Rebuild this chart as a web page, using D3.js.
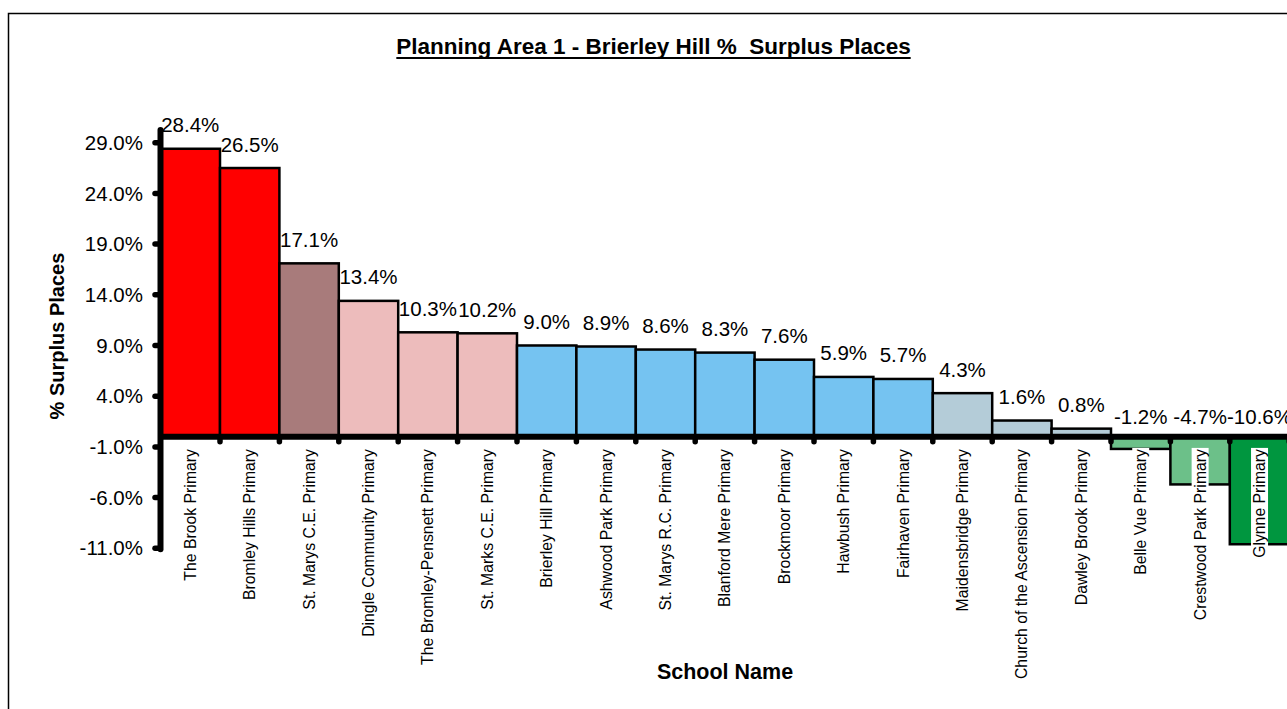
<!DOCTYPE html>
<html>
<head>
<meta charset="utf-8">
<script src="https://cdn.jsdelivr.net/npm/d3@7"></script>
<style>
  html, body { margin: 0; padding: 0; background: #fff; overflow: hidden; }
  svg { display: block; font-family: "Liberation Sans", Arial, sans-serif; }
</style>
</head>
<body>
<svg id="chart" width="1287" height="709"></svg>
<script>
const schools = [
  "The Brook Primary", "Bromley Hills Primary", "St. Marys C.E. Primary",
  "Dingle Community Primary", "The Bromley-Pensnett Primary", "St. Marks C.E. Primary",
  "Brierley Hill Primary", "Ashwood Park Primary", "St. Marys R.C. Primary",
  "Blanford Mere Primary", "Brockmoor Primary", "Hawbush Primary",
  "Fairhaven Primary", "Maidensbridge Primary", "Church of the Ascension Primary",
  "Dawley Brook Primary", "Belle Vue Primary", "Crestwood Park Primary", "Glynne Primary"
];
const surplus = [28.4, 26.5, 17.1, 13.4, 10.3, 10.2, 9.0, 8.9, 8.6, 8.3, 7.6, 5.9, 5.7, 4.3, 1.6, 0.8, -1.2, -4.7, -10.6];
const barColors = [
  "#FF0000", "#FF0000", "#A87B7B", "#EDBCBC", "#EDBCBC", "#EDBCBC",
  "#75C3F1", "#75C3F1", "#75C3F1", "#75C3F1", "#75C3F1", "#75C3F1", "#75C3F1",
  "#B4CCD8", "#B4CCD8", "#B4CCD8", "#6CC089", "#6CC089", "#00963F"
];
const yTicks = [-11, -6, -1, 4, 9, 14, 19, 24, 29];
const title = "Planning Area 1 - Brierley Hill %  Surplus Places";
const yTitle = "% Surplus Places";
const xTitle = "School Name";

const svg = d3.select("#chart");
const locale = d3.formatLocale({ decimal: ".", thousands: ",", grouping: [3], currency: ["", ""], minus: "-" });
const fmt = v => locale.format(".1f")(v) + "%";

// outer frame
svg.append("rect").attr("x", 8.5).attr("y", 13.5).attr("width", 1400).attr("height", 800)
  .attr("fill", "none").attr("stroke", "#000").attr("stroke-width", 1.5);

const x = d3.scaleBand().domain(schools).range([160.6, 1289.2]).padding(0);
const y = d3.scaleLinear().domain([-11, 30.25]).range([548.3, 130]);

// bars
svg.append("g").selectAll("rect").data(schools).join("rect")
  .attr("x", d => x(d))
  .attr("width", x.bandwidth())
  .attr("y", (d, i) => y(Math.max(0, surplus[i])))
  .attr("height", (d, i) => Math.abs(y(surplus[i]) - y(0)))
  .attr("fill", (d, i) => barColors[i])
  .attr("stroke", "#000").attr("stroke-width", 2.5);

// category labels with white backgrounds
const catG = svg.append("g");
schools.forEach((s, i) => {
  const g = catG.append("g")
    .attr("transform", `translate(${x(s) + x.bandwidth() / 2},449) rotate(-90)`);
  const t = g.append("text").attr("text-anchor", "end").attr("dy", "0.35em")
    .attr("font-size", 15.8).attr("fill", "#000").text(s);
  const bb = t.node().getBBox();
  g.insert("rect", "text").attr("x", bb.x - 1).attr("y", bb.y).attr("width", bb.width + 2)
    .attr("height", bb.height).attr("fill", "#fff");
});

// x axis line
svg.append("line").attr("x1", 158).attr("x2", 1300).attr("y1", y(0)).attr("y2", y(0))
  .attr("stroke", "#000").attr("stroke-width", 6);
// x ticks (category boundaries)
const bounds = schools.map(s => x(s)).slice(1).concat([x(schools[schools.length - 1]) + x.bandwidth()]);
svg.append("g").selectAll("line").data(bounds).join("line")
  .attr("x1", d => d).attr("x2", d => d)
  .attr("y1", y(0)).attr("y2", y(0) + 5)
  .attr("stroke", "#000").attr("stroke-width", 5.5).attr("stroke-linecap", "round");

// y axis
svg.append("line").attr("x1", 160.5).attr("x2", 160.5).attr("y1", y.range()[1]).attr("y2", y.range()[0] + 1)
  .attr("stroke", "#000").attr("stroke-width", 6).attr("stroke-linecap", "round");
const yg = svg.append("g");
yg.selectAll("line").data(yTicks).join("line")
  .attr("x1", 155).attr("x2", 160).attr("y1", d => y(d)).attr("y2", d => y(d))
  .attr("stroke", "#000").attr("stroke-width", 5.5).attr("stroke-linecap", "round");
yg.selectAll("text").data(yTicks).join("text")
  .attr("x", 143).attr("y", d => y(d)).attr("dy", "0.35em")
  .attr("text-anchor", "end").attr("font-size", 20.5).attr("fill", "#000")
  .text(d => fmt(d));

// value labels
svg.append("g").selectAll("text").data(schools).join("text")
  .attr("x", d => x(d) + x.bandwidth() / 2)
  .attr("y", (d, i) => surplus[i] >= 0 ? y(surplus[i]) - 16.5 : y(0) - 13)
  .attr("text-anchor", "middle").attr("font-size", 20.5).attr("fill", "#000")
  .text((d, i) => fmt(surplus[i]));

// title
const tt = svg.append("text").attr("x", 653.5).attr("y", 54).attr("text-anchor", "middle")
  .attr("font-size", 22.5).attr("font-weight", "bold").style("white-space", "pre")
  .attr("fill", "#000").text(title);
const tb = tt.node().getBBox();
svg.append("line").attr("x1", tb.x).attr("x2", tb.x + tb.width).attr("y1", 58).attr("y2", 58)
  .attr("stroke", "#000").attr("stroke-width", 2);

// axis titles
svg.append("text").attr("transform", "translate(64,336) rotate(-90)")
  .attr("text-anchor", "middle").attr("font-size", 20).attr("font-weight", "bold")
  .attr("fill", "#000").text(yTitle);
svg.append("text").attr("x", 725).attr("y", 679).attr("text-anchor", "middle")
  .attr("font-size", 21.5).attr("font-weight", "bold").attr("fill", "#000").text(xTitle);
</script>
</body>
</html>
